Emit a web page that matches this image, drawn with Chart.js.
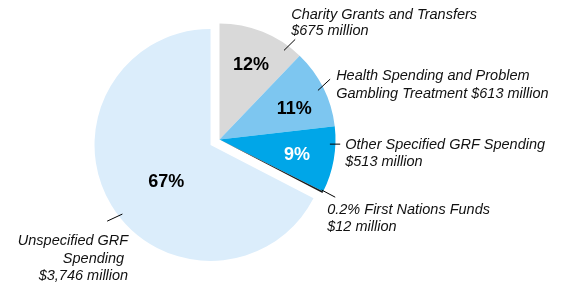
<!DOCTYPE html>
<html>
<head>
<meta charset="utf-8">
<script src="https://cdn.jsdelivr.net/npm/chart.js@4/dist/chart.umd.min.js"></script>
<style>
  html, body { margin: 0; padding: 0; background: #fff; }
  #wrap { width: 565px; height: 286px; position: relative; }
</style>
</head>
<body>
<div id="wrap"><canvas id="pieChart"></canvas></div>
<script>
// values in $ million
var categories = ['Charity Grants and Transfers', 'Health Spending and Problem Gambling Treatment',
    'Other Specified GRF Spending', 'First Nations Funds', 'Unspecified GRF Spending'];
var valuesMillions = [675, 613, 513, 12, 3746];
var sliceColors = ['#d9d9d9', '#7dc6f0', '#00a6e8', '#1a1a1a', '#dbedfb'];
var explodedIndex = 4;
var explodeOffset = 10.5;

var total = valuesMillions.reduce(function (a, b) { return a + b; }, 0);

function money(v) {
    return '$' + v.toLocaleString('en-US') + ' million';
}

// outside label text, split the way the original wraps it
var outsideText = [
    [categories[0], money(valuesMillions[0])],
    ['Health Spending and Problem', 'Gambling Treatment ' + money(valuesMillions[1])],
    [categories[2], money(valuesMillions[2])],
    [(valuesMillions[3] / total * 100).toFixed(1) + '% ' + categories[3], money(valuesMillions[3])],
    ['Unspecified GRF', 'Spending ', money(valuesMillions[4])]
];

// leader lines: angle (deg, clockwise from top) and radius of both ends, then text offset from the outer end
var outsideLayout = [
    { a1: 35.9, r1: 110, a2: 37.1, r2: 125.5, dx: -4, dy: -20.5, align: 'left', lh: 16.5 },
    { a1: 63.5, r1: 110, a2: 61.4, r2: 126, dx: 6, dy: 1.3, align: 'left', lh: 17.5 },
    { a1: 92.4, r1: 110.5, a2: 92.2, r2: 120.8, dx: 5, dy: 4.8, align: 'left', lh: 17 },
    { a1: 116.3, r1: 114, a2: 116.5, r2: 129.3, dx: -8, dy: 16.8, align: 'left', lh: 17 },
    { a1: 231.9, r1: 112, a2: 233.6, r2: 128.4, dx: 21, dy: 24.3, align: 'right', lh: 17.5 }
];

// percentage labels inside slices
var insideLayout = [
    { a: 22.9, r: 80.7, color: '#000' },
    { a: 67.9, r: 80.6, color: '#000' },
    { a: 101.5, r: 79, color: '#fff' },
    null,
    { a: 230, r: 57.7, color: '#000' }
];

function polar(arc, deg, r) {
    var t = (deg - 90) * Math.PI / 180;
    return { x: arc.x + Math.cos(t) * r, y: arc.y + Math.sin(t) * r };
}

var sliceLabels = {
    id: 'sliceLabels',
    afterUpdate: function (chart) {
        // pull the big slice out along its bisector
        var arc = chart.getDatasetMeta(0).data[explodedIndex];
        var mid = (arc.startAngle + arc.endAngle) / 2;
        arc.x += Math.cos(mid) * explodeOffset;
        arc.y += Math.sin(mid) * explodeOffset;
    },
    afterDatasetsDraw: function (chart) {
        var ctx = chart.ctx;
        var arcs = chart.getDatasetMeta(0).data;
        ctx.save();

        ctx.textAlign = 'center';
        ctx.textBaseline = 'middle';
        ctx.font = 'bold 18px "Liberation Sans", Arial, sans-serif';
        insideLayout.forEach(function (l, i) {
            if (!l) return;
            var p = polar(arcs[i], l.a, l.r);
            ctx.fillStyle = l.color;
            ctx.fillText(Math.round(valuesMillions[i] / total * 100) + '%', p.x, p.y);
        });

        ctx.strokeStyle = '#000';
        ctx.lineWidth = 1;
        ctx.fillStyle = '#111';
        ctx.textBaseline = 'alphabetic';
        ctx.font = 'italic 14.5px "Liberation Sans", Arial, sans-serif';
        outsideLayout.forEach(function (l, i) {
            var p1 = polar(arcs[i], l.a1, l.r1);
            var p2 = polar(arcs[i], l.a2, l.r2);
            ctx.beginPath();
            ctx.moveTo(p1.x, p1.y);
            ctx.lineTo(p2.x, p2.y);
            ctx.stroke();
            ctx.textAlign = l.align;
            outsideText[i].forEach(function (line, k) {
                ctx.fillText(line, p2.x + l.dx, p2.y + l.dy + k * l.lh);
            });
        });
        ctx.restore();
    }
};

var ctx = document.getElementById('pieChart').getContext('2d');
new Chart(ctx, {
    type: 'pie',
    data: {
        labels: categories,
        datasets: [{
            data: valuesMillions,
            backgroundColor: sliceColors,
            borderWidth: 0
        }]
    },
    options: {
        responsive: true,
        maintainAspectRatio: false,
        animation: false,
        radius: 116,
        layout: { padding: { left: 0, right: 126, top: 0, bottom: 7 } },
        plugins: {
            legend: { display: false },
            tooltip: { enabled: false }
        }
    },
    plugins: [sliceLabels]
});
</script>
</body>
</html>
